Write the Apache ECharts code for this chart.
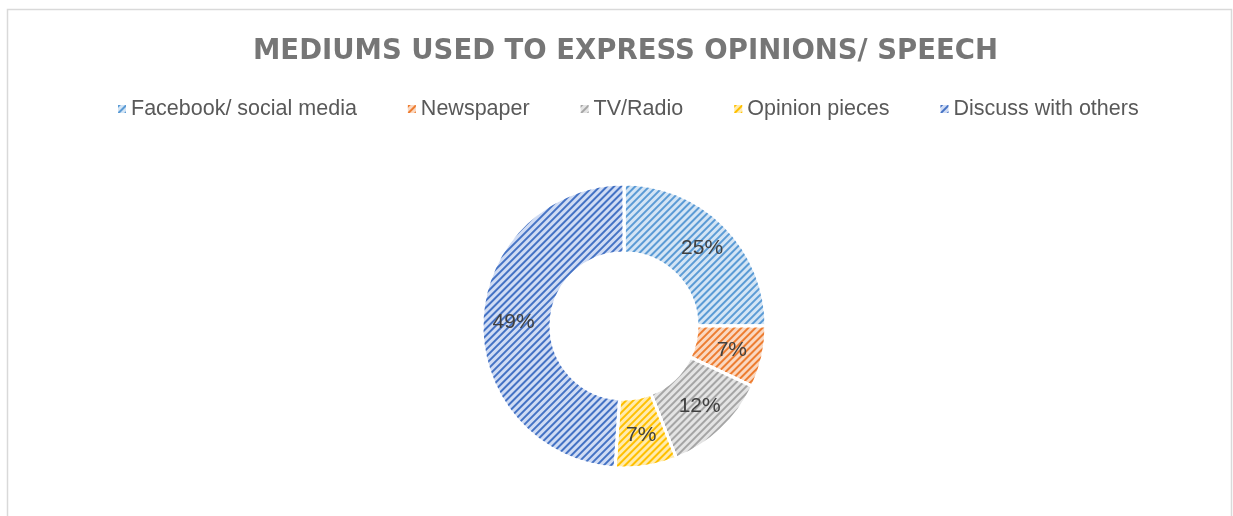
<!DOCTYPE html>
<html>
<head>
<meta charset="utf-8">
<script src="https://cdn.jsdelivr.net/npm/echarts@6/dist/echarts.min.js"></script>
<style>
html,body{margin:0;padding:0;background:#fff;}
#chart{width:1233px;height:516px;}
</style>
</head>
<body>
<div id="chart"></div>
<script>
const titleText = 'MEDIUMS USED TO EXPRESS OPINIONS/ SPEECH';
const categories = ['Facebook/ social media', 'Newspaper', 'TV/Radio', 'Opinion pieces', 'Discuss with others'];
const values = [25, 7, 12, 7, 49];
const fillColors = ['#D4E5F5', '#FAD8C1', '#E4E4E4', '#FFEBAE', '#D0DCF4'];
const stripeColors = ['#5B9BD5', '#ED7D31', '#A5A5A5', '#FFC000', '#4472C4'];

const chart = echarts.init(document.getElementById('chart'), null, {renderer: 'canvas'});

function decalFor(i) {
  return {
    symbol: 'rect',
    symbolSize: 1,
    dashArrayX: [1, 0],
    dashArrayY: [1.6, 2.8],
    rotation: -Math.PI / 4,
    color: stripeColors[i]
  };
}

const data = categories.map((name, i) => ({
  name: name,
  value: values[i],
  itemStyle: {
    color: fillColors[i],
    decal: decalFor(i)
  }
}));

chart.setOption({
  animation: false,
  backgroundColor: '#ffffff',
  graphic: [{
    type: 'rect',
    shape: {x: 7.5, y: 9.5, width: 1224, height: 530},
    style: {fill: 'none', stroke: '#D9D9D9', lineWidth: 1.5},
    silent: true
  }],
  title: {
    text: titleText,
    left: 248,
    top: 33,
    textStyle: {
      fontFamily: 'DejaVu Sans',
      fontWeight: 'bold',
      fontSize: 27.5,
      color: '#767676'
    }
  },
  legend: {
    data: categories,
    left: 113,
    top: 93,
    itemWidth: 8,
    itemHeight: 8,
    itemGap: 51,
    icon: 'rect',
    itemStyle: {borderWidth: 0},
    textStyle: {
      fontFamily: 'Liberation Sans',
      fontSize: 21.5,
      color: '#595959'
    }
  },
  series: [{
    type: 'pie',
    center: [624, 326],
    radius: [73, 142],
    startAngle: 90,
    clockwise: true,
    percentPrecision: 0,
    data: data,
    itemStyle: {borderColor: '#ffffff', borderWidth: 3},
    label: {
      show: true,
      position: 'inside',
      formatter: '{d}%',
      fontFamily: 'Liberation Sans',
      fontSize: 21,
      color: '#404040'
    },
    labelLine: {show: false},
    emphasis: {disabled: true}
  }]
});
</script>
</body>
</html>
